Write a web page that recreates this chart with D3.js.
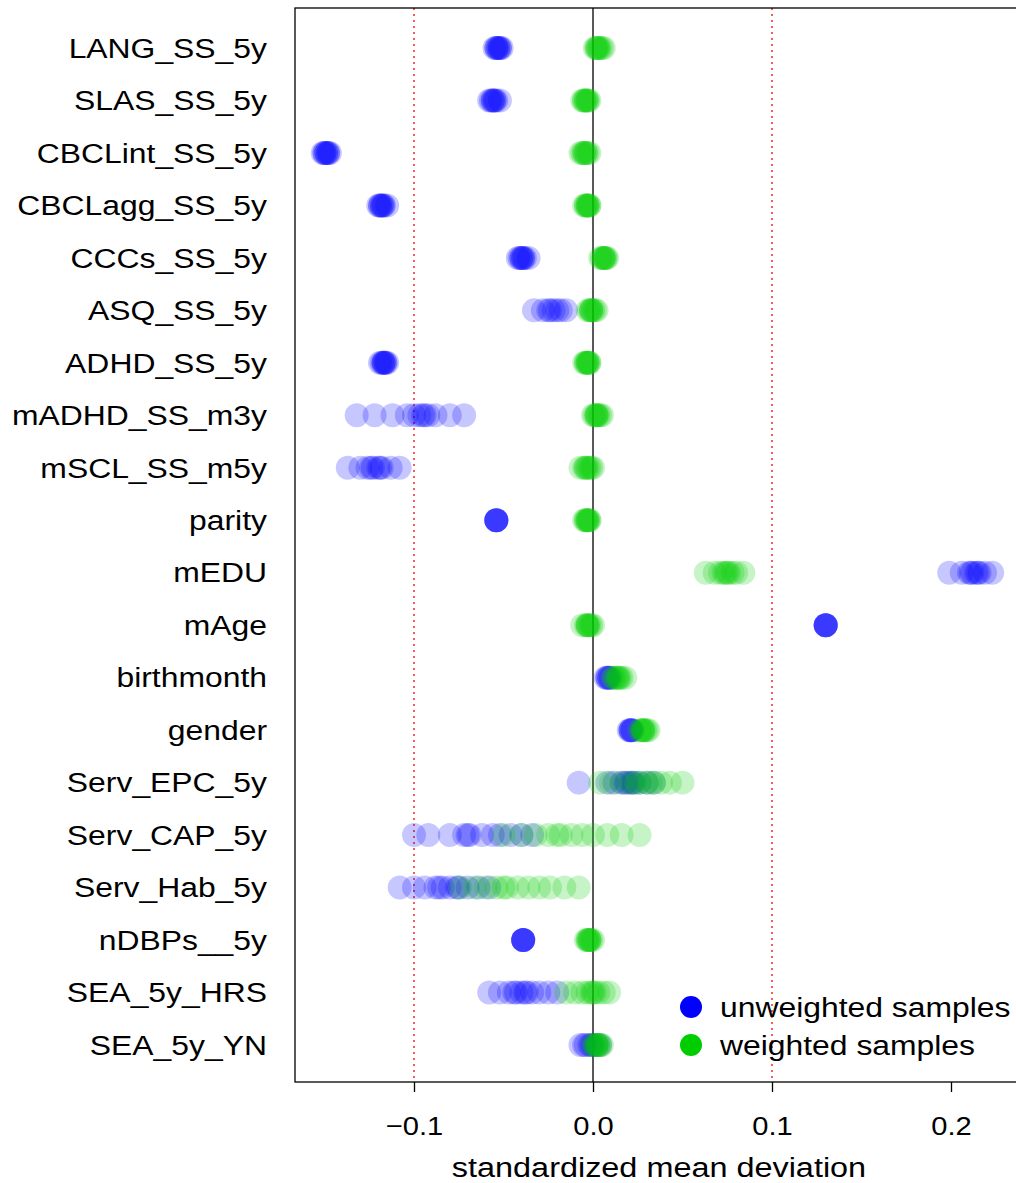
<!DOCTYPE html>
<html><head><meta charset="utf-8">
<script src="https://cdn.jsdelivr.net/npm/d3@7"></script>
<style>body{margin:0;background:#fff}</style></head>
<body><svg id="c" width="1016" height="1183"></svg>
<script>
const categories = ["LANG_SS_5y","SLAS_SS_5y","CBCLint_SS_5y","CBCLagg_SS_5y","CCCs_SS_5y","ASQ_SS_5y","ADHD_SS_5y","mADHD_SS_m3y","mSCL_SS_m5y","parity","mEDU","mAge","birthmonth","gender","Serv_EPC_5y","Serv_CAP_5y","Serv_Hab_5y","nDBPs__5y","SEA_5y_HRS","SEA_5y_YN"];
const unweighted = [
 [-0.055,-0.054,-0.053,-0.053,-0.052,-0.052,-0.051,-0.054],
 [-0.058,-0.057,-0.056,-0.055,-0.055,-0.054,-0.052,-0.056],
 [-0.151,-0.150,-0.149,-0.149,-0.148,-0.148,-0.147,-0.150],
 [-0.120,-0.119,-0.118,-0.118,-0.117,-0.117,-0.115,-0.119],
 [-0.042,-0.041,-0.040,-0.039,-0.039,-0.038,-0.036,-0.040],
 [-0.033,-0.028,-0.025,-0.022,-0.020,-0.018,-0.015,-0.024],
 [-0.119,-0.118,-0.117,-0.117,-0.116,-0.116,-0.115,-0.117],
 [-0.132,-0.122,-0.112,-0.104,-0.097,-0.094,-0.092,-0.088,-0.080,-0.072,-0.100,-0.095],
 [-0.137,-0.130,-0.126,-0.123,-0.120,-0.118,-0.113,-0.108,-0.124,-0.119],
 [-0.054,-0.054,-0.054,-0.054,-0.054,-0.054],
 [0.199,0.206,0.210,0.212,0.214,0.216,0.219,0.223,0.211,0.215],
 [0.130,0.130,0.130,0.130,0.130,0.130],
 [0.007,0.008,0.008,0.009,0.009,0.010],
 [0.020,0.021,0.021,0.021,0.022,0.022],
 [-0.008,0.008,0.012,0.016,0.019,0.021,0.023,0.026,0.030,0.034,0.018,0.022],
 [-0.100,-0.092,-0.080,-0.072,-0.069,-0.062,-0.052,-0.046,-0.040,-0.034,-0.070,-0.056],
 [-0.108,-0.100,-0.094,-0.088,-0.084,-0.080,-0.075,-0.070,-0.064,-0.058,-0.086,-0.076],
 [-0.039,-0.039,-0.039,-0.039,-0.039,-0.039],
 [-0.058,-0.052,-0.047,-0.043,-0.040,-0.037,-0.034,-0.030,-0.025,-0.020,-0.044,-0.038],
 [-0.007,-0.005,-0.004,-0.002,-0.001,0.000,0.002,0.004]
];
const weighted = [
 [0.001,0.002,0.003,0.003,0.004,0.005,0.006,0.002],
 [-0.006,-0.005,-0.004,-0.004,-0.003,-0.003,-0.002,-0.005],
 [-0.007,-0.006,-0.005,-0.004,-0.004,-0.003,-0.002,-0.005],
 [-0.005,-0.004,-0.003,-0.003,-0.002,-0.002,-0.004,-0.003],
 [0.004,0.005,0.006,0.006,0.007,0.007,0.008,0.006],
 [-0.003,-0.002,-0.001,-0.001,0.000,0.001,0.002,-0.001],
 [-0.005,-0.004,-0.003,-0.003,-0.002,-0.002,-0.004,-0.003],
 [0.000,0.001,0.002,0.002,0.003,0.004,0.005,0.002],
 [-0.007,-0.005,-0.004,-0.003,-0.002,-0.001,0.000,-0.004],
 [-0.005,-0.004,-0.003,-0.003,-0.002,-0.002,-0.003,-0.004],
 [0.063,0.068,0.071,0.073,0.075,0.076,0.078,0.080,0.084,0.074],
 [-0.006,-0.004,-0.003,-0.003,-0.002,-0.001,0.000,-0.003],
 [0.011,0.012,0.013,0.014,0.015,0.016,0.018,0.014],
 [0.026,0.027,0.028,0.028,0.029,0.030,0.031,0.028],
 [0.004,0.010,0.016,0.021,0.026,0.030,0.034,0.038,0.043,0.050,0.024,0.032],
 [-0.050,-0.040,-0.032,-0.025,-0.018,-0.012,-0.006,0.000,0.008,0.016,0.026,-0.020],
 [-0.074,-0.066,-0.060,-0.054,-0.048,-0.042,-0.036,-0.030,-0.024,-0.016,-0.008,-0.050],
 [-0.004,-0.003,-0.002,-0.002,-0.001,0.000,-0.002,-0.003],
 [-0.015,-0.010,-0.006,-0.003,-0.001,0.001,0.003,0.006,0.009,0.000],
 [0.000,0.001,0.002,0.003,0.004,0.005,0.003,0.002]
];
const xTicks = [-0.1, 0.0, 0.1, 0.2];
const xTickLabels = ["\u22120.1","0.0","0.1","0.2"];
const legendLabels = ["unweighted samples","weighted samples"];
const colors = ["#0000FF","#00CD00"];

const svg = d3.select("#c");
const L=295, T=8, B=1082;
const x = d3.scaleLinear().domain([0,0.1]).range([593,772]);
const y = d3.scalePoint().domain(categories).range([48,1045]);
const font = "Liberation Sans, Arial, sans-serif";
function stretch(sel, k){
  sel.each(function(){ const w=this.getComputedTextLength();
    d3.select(this).attr("textLength", w*k).attr("lengthAdjust","spacingAndGlyphs"); });
}

[-0.1,0.1].forEach(v=>svg.append("line").attr("x1",x(v)).attr("x2",x(v)).attr("y1",T).attr("y2",B)
  .attr("stroke","red").attr("stroke-dasharray","2,4").attr("stroke-width",1.3));
svg.append("line").attr("x1",x(0)).attr("x2",x(0)).attr("y1",T).attr("y2",B).attr("stroke","#000").attr("stroke-width",1.3);

[unweighted, weighted].forEach((ser,si)=>{
  ser.forEach((vals,i)=>{
    svg.append("g").selectAll("circle").data(vals).join("circle")
      .attr("cx",d=>x(d)).attr("cy",y(categories[i])).attr("r",12)
      .attr("fill",colors[si]).attr("fill-opacity",0.22);
  });
});

svg.append("rect").attr("x",L).attr("y",T).attr("width",1100).attr("height",B-T)
  .attr("fill","none").attr("stroke","#000").attr("stroke-width",1.3);

const ax = svg.append("g").attr("transform",`translate(0,${B})`)
  .call(d3.axisBottom(x).tickValues(xTicks).tickFormat((d,i)=>xTickLabels[i]).tickSize(10).tickSizeOuter(0));
ax.select(".domain").remove();
ax.selectAll("line").attr("stroke-width",1.3);
ax.selectAll("text").attr("font-size",26).attr("font-family",font).attr("dy","1.55em").attr("fill","#000");
stretch(ax.selectAll("text"),1.12);

stretch(svg.append("text").attr("x",659).attr("y",1177).attr("text-anchor","middle")
  .attr("font-size",27).attr("font-family",font).text("standardized mean deviation"),1.2);

stretch(svg.append("g").selectAll("text").data(categories).join("text")
  .attr("x",267).attr("y",d=>y(d)).attr("dy","0.36em").attr("text-anchor","end")
  .attr("font-size",27).attr("font-family",font).text(d=>d),1.18);

legendLabels.forEach((t,i)=>{
  const ly = 1007 + i*38;
  svg.append("circle").attr("cx",691).attr("cy",ly).attr("r",11).attr("fill",colors[i]);
  stretch(svg.append("text").attr("x",720).attr("y",ly).attr("dy","0.36em").attr("font-size",27)
    .attr("font-family",font).text(t),1.18);
});
</script></body></html>
